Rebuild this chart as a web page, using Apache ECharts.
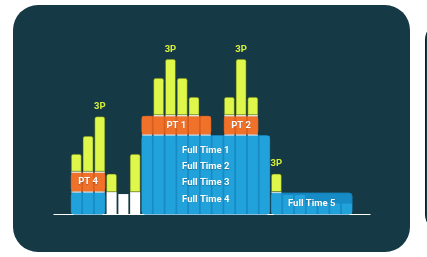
<!DOCTYPE html>
<html>
<head>
<meta charset="utf-8">
<title>Team coverage</title>
<script src="https://cdn.jsdelivr.net/npm/echarts@6/dist/echarts.min.js"></script>
<style>
  html, body { margin: 0; padding: 0; background: #fff; }
  #chart { width: 427px; height: 257px; }
</style>
</head>
<body>
<div id="chart"></div>
<script>
'use strict';
/* staffing stack: full time / open / part time / third party per slot */

var columns = ['c1', 'c2', 'c3', 'c4', 'c5', 'c6', 'c7', 'c8', 'c9', 'c10', 'c11', 'c12',
  'c13', 'c14', 'c15', 'c16', 'c17', 'c18', 'c19', 'c20', 'c21', 'c22', 'c23', 'c24'];
var fullTime = [1.12, 1.12, 1.12, 0, 0, 0,
  4.12, 4.12, 4.12, 4.12, 4.12, 4.12, 4.12, 4.12, 4.12, 4.12, 4.12,
  1.1, 1.0, 1.0, 0.6, 0.6, 0.55, 0.55];
var openSlots = [0, 0, 0, 1.17, 1.05, 1.17,
  0, 0, 0, 0, 0, 0, 0, 0, 0, 0, 0,
  0, 0, 0, 0, 0, 0, 0];
var partTime = [1.05, 1.05, 1.05, 0, 0, 0,
  1.02, 1.02, 1.02, 1.02, 1.02, 1.02, 0, 1.02, 1.02, 1.02, 0,
  0, 0, 0, 0, 0, 0, 0];
var thirdParty = [0.97, 1.92, 2.95, 0.93, 0, 1.97,
  0, 2, 3, 2, 1, 0, 0, 1, 3, 1, 0,
  1, 0, 0, 0, 0, 0, 0];

var fullTimeGroups = [[0, 2], [6, 16], [17, 23]];
var fullTimeNames = ['', 'Full Time 1\nFull Time 2\nFull Time 3\nFull Time 4', 'Full Time 5'];
var partTimeGroups = [[0, 2], [6, 11], [13, 15]];
var partTimeNames = ['PT 4', 'PT 1', 'PT 2'];
var thirdPartyTags = [2, 8, 14, 17];
var thirdPartyName = '3P';

var BG = '#163a45';
var BLUE = '#22a2da';
var BLUE_DARK = '#178bc5';
var ORANGE = '#f0712a';
var ORANGE_DARK = '#d85f1f';
var LIME = '#dff74a';
var FONT = 'bold 9.5px Roboto, sans-serif';

function bandWidth(api) {
  return api.size([1, 0])[0] * 0.85;
}

function maxOf(arr, from, to) {
  var m = 0;
  for (var i = from; i <= to; i++) {
    if (arr[i] > m) m = arr[i];
  }
  return m;
}

// one column: stacked rects with thin white seams
function renderColumn(params, api) {
  var i = api.value(0);
  var w = bandWidth(api);
  var cx = api.coord([i, 0])[0];
  var x = cx - w / 2;
  var parts = [
    { v: api.value(1), color: BLUE, r: 1 },
    { v: api.value(2), color: '#ffffff', r: 0 },
    { v: api.value(3), color: ORANGE, r: 1 },
    { v: api.value(4), color: LIME, r: [2, 2, 0, 0], stroke: 'rgba(70,90,10,0.6)' }
  ];
  var kids = [];
  var base = 0;
  var prev = -1;
  for (var k = 0; k < parts.length; k++) {
    var p = parts[k];
    if (!(p.v > 0)) continue;
    var top = api.coord([i, base + p.v])[1];
    var bottom = api.coord([i, base])[1];
    var gap = (prev === 0 || prev === 2) ? 1.5 : 0;
    if (gap) {
      kids.push({
        type: 'rect',
        shape: { x: x, y: bottom - gap, width: w, height: gap },
        style: { fill: prev === 0 ? 'rgba(235,248,255,0.85)' : '#ffffff' }
      });
    }
    kids.push({
      type: 'rect',
      shape: { x: x, y: top, width: w, height: bottom - gap - top, r: p.r },
      style: { fill: p.color, stroke: p.stroke || null, lineWidth: p.stroke ? 0.8 : 0 }
    });
    prev = k;
    base += p.v;
  }
  if (thirdPartyTags.indexOf(i) >= 0) {
    kids.push({
      type: 'text',
      style: {
        text: thirdPartyName,
        x: cx,
        y: api.coord([i, base])[1] - 10,
        fill: '#d6f03a',
        font: FONT,
        align: 'center',
        verticalAlign: 'middle'
      }
    });
  }
  return { type: 'group', children: kids };
}

// group blocks drawn behind the columns
var blocks = [];
fullTimeGroups.forEach(function(g, k) {
  blocks.push({ from: g[0], to: g[1], lo: 0, hi: maxOf(fullTime, g[0], g[1]),
    fill: BLUE_DARK, stroke: '#1480ba', gap: 0, text: fullTimeNames[k] });
});
partTimeGroups.forEach(function(g, k) {
  var lo = fullTime[g[0]];
  blocks.push({ from: g[0], to: g[1], lo: lo, hi: lo + partTime[g[0]],
    fill: ORANGE_DARK, stroke: '#c9561a', gap: 1.5, text: partTimeNames[k] });
});

function blockBox(b, api) {
  var w = bandWidth(api);
  var left = api.coord([b.from, 0])[0] - w / 2;
  var right = api.coord([b.to, 0])[0] + w / 2;
  var top = api.coord([b.from, b.hi])[1];
  var bottom = api.coord([b.from, b.lo])[1] - b.gap;
  return { x: left, y: top, width: right - left, height: bottom - top };
}

function renderBlock(params, api) {
  var b = blocks[params.dataIndex];
  var box = blockBox(b, api);
  box.r = 3;
  return {
    type: 'rect',
    shape: box,
    style: { fill: b.fill, stroke: b.stroke, lineWidth: 1 }
  };
}

function renderBlockLabel(params, api) {
  var b = blocks[params.dataIndex];
  if (!b.text) return null;
  var box = blockBox(b, api);
  return {
    type: 'text',
    style: {
      text: b.text,
      x: box.x + box.width / 2,
      y: box.y + box.height / 2,
      fill: '#ffffff',
      font: FONT,
      lineHeight: 16.3,
      align: 'center',
      verticalAlign: 'middle',
      textShadowColor: 'rgba(0,0,0,0.25)',
      textShadowBlur: 1,
      textShadowOffsetY: 0.5
    }
  };
}

var columnData = columns.map(function(c, i) {
  return [i, fullTime[i], openSlots[i], partTime[i], thirdParty[i]];
});
var blockData = blocks.map(function(b) {
  return [b.from, b.to];
});

var chart = echarts.init(document.getElementById('chart'));
var option = {
  animation: false,
  backgroundColor: 'transparent',
  graphic: [{
    type: 'rect',
    z: -10,
    shape: { x: 13, y: 5, width: 397, height: 247, r: 25 },
    style: { fill: BG }
  }, {
    type: 'rect',
    z: -10,
    shape: { x: 425.5, y: 20, width: 40, height: 214, r: 20 },
    style: { fill: BG, stroke: '#0c1f25', lineWidth: 1 }
  }],
  grid: [{
    left: 70.4,
    right: 74.1,
    top: 24,
    bottom: 43
  }, {
    left: 54,
    right: 57,
    top: 24,
    bottom: 42.7
  }],
  xAxis: [{
    type: 'category',
    data: columns,
    show: false
  }, {
    type: 'value',
    gridIndex: 1,
    min: 0,
    max: 1,
    axisLine: { show: true, lineStyle: { color: '#ffffff', width: 1.2 } },
    axisTick: { show: false },
    axisLabel: { show: false },
    splitLine: { show: false }
  }],
  yAxis: [{
    type: 'value',
    min: 0,
    max: 10,
    show: false
  }, {
    type: 'value',
    gridIndex: 1,
    min: 0,
    max: 1,
    show: false
  }],
  series: [{
    name: 'groups',
    type: 'custom',
    renderItem: renderBlock,
    encode: { x: [0, 1] },
    data: blockData,
    z: 2
  }, {
    name: 'slots',
    type: 'custom',
    renderItem: renderColumn,
    encode: { x: 0, y: [1, 2, 3, 4] },
    data: columnData,
    z: 3
  }, {
    name: 'labels',
    type: 'custom',
    renderItem: renderBlockLabel,
    encode: { x: [0, 1] },
    data: blockData,
    z: 4
  }]
};
chart.setOption(option);
</script>
</body>
</html>
